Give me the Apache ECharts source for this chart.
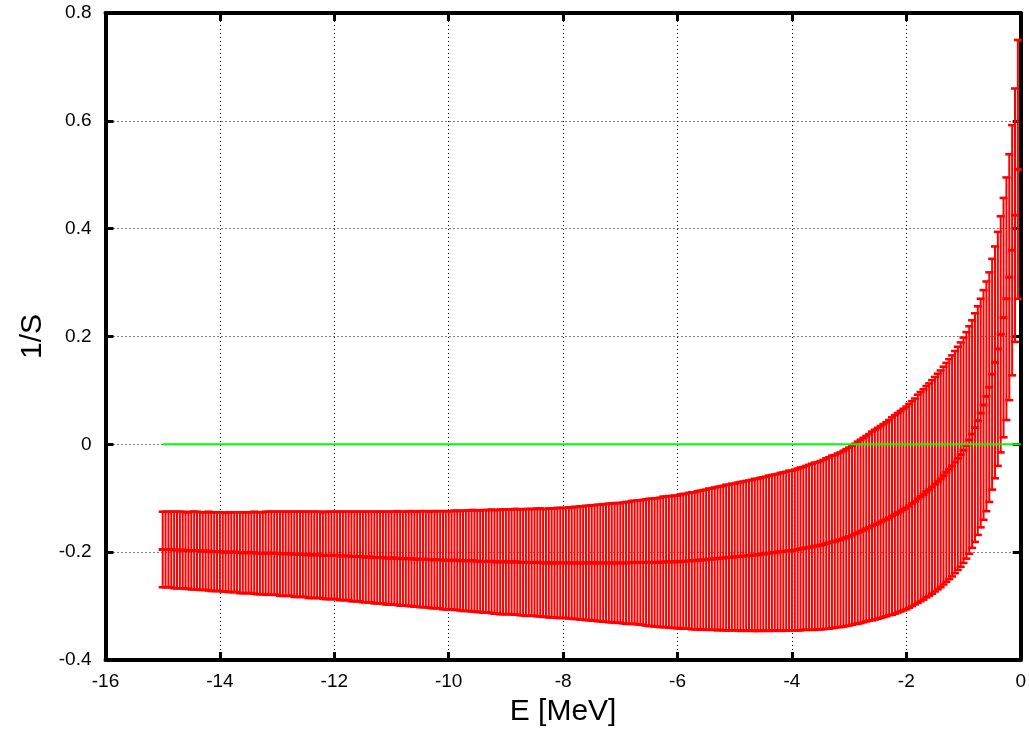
<!DOCTYPE html>
<html>
<head>
<meta charset="utf-8">
<script src="https://cdn.jsdelivr.net/npm/echarts@6/dist/echarts.min.js"></script>
<style>html,body{margin:0;padding:0;background:#fff}#c{width:1029px;height:732px}</style>
</head>
<body>
<div id="c"></div>
<script>
// Energy grid (MeV)
const E = [
-15.00,-14.95,-14.90,-14.85,-14.80,-14.75,-14.70,-14.65,-14.60,-14.55,-14.50,-14.45,-14.40,-14.35,-14.30,-14.25,-14.20,-14.15,-14.10,-14.05,
-14.00,-13.95,-13.90,-13.85,-13.80,-13.75,-13.70,-13.65,-13.60,-13.55,-13.50,-13.45,-13.40,-13.35,-13.30,-13.25,-13.20,-13.15,-13.10,-13.05,
-13.00,-12.95,-12.90,-12.85,-12.80,-12.75,-12.70,-12.65,-12.60,-12.55,-12.50,-12.45,-12.40,-12.35,-12.30,-12.25,-12.20,-12.15,-12.10,-12.05,
-12.00,-11.95,-11.90,-11.85,-11.80,-11.75,-11.70,-11.65,-11.60,-11.55,-11.50,-11.45,-11.40,-11.35,-11.30,-11.25,-11.20,-11.15,-11.10,-11.05,
-11.00,-10.95,-10.90,-10.85,-10.80,-10.75,-10.70,-10.65,-10.60,-10.55,-10.50,-10.45,-10.40,-10.35,-10.30,-10.25,-10.20,-10.15,-10.10,-10.05,
-10.00,-9.95,-9.90,-9.85,-9.80,-9.75,-9.70,-9.65,-9.60,-9.55,-9.50,-9.45,-9.40,-9.35,-9.30,-9.25,-9.20,-9.15,-9.10,-9.05,
-9.00,-8.95,-8.90,-8.85,-8.80,-8.75,-8.70,-8.65,-8.60,-8.55,-8.50,-8.45,-8.40,-8.35,-8.30,-8.25,-8.20,-8.15,-8.10,-8.05,
-8.00,-7.95,-7.90,-7.85,-7.80,-7.75,-7.70,-7.65,-7.60,-7.55,-7.50,-7.45,-7.40,-7.35,-7.30,-7.25,-7.20,-7.15,-7.10,-7.05,
-7.00,-6.95,-6.90,-6.85,-6.80,-6.75,-6.70,-6.65,-6.60,-6.55,-6.50,-6.45,-6.40,-6.35,-6.30,-6.25,-6.20,-6.15,-6.10,-6.05,
-6.00,-5.95,-5.90,-5.85,-5.80,-5.75,-5.70,-5.65,-5.60,-5.55,-5.50,-5.45,-5.40,-5.35,-5.30,-5.25,-5.20,-5.15,-5.10,-5.05,
-5.00,-4.95,-4.90,-4.85,-4.80,-4.75,-4.70,-4.65,-4.60,-4.55,-4.50,-4.45,-4.40,-4.35,-4.30,-4.25,-4.20,-4.15,-4.10,-4.05,
-4.00,-3.95,-3.90,-3.85,-3.80,-3.75,-3.70,-3.65,-3.60,-3.55,-3.50,-3.45,-3.40,-3.35,-3.30,-3.25,-3.20,-3.15,-3.10,-3.05,
-3.00,-2.95,-2.90,-2.85,-2.80,-2.75,-2.70,-2.65,-2.60,-2.55,-2.50,-2.45,-2.40,-2.35,-2.30,-2.25,-2.20,-2.15,-2.10,-2.05,
-2.00,-1.95,-1.90,-1.85,-1.80,-1.75,-1.70,-1.65,-1.60,-1.55,-1.50,-1.45,-1.40,-1.35,-1.30,-1.25,-1.20,-1.15,-1.10,-1.05,
-1.00,-0.95,-0.90,-0.85,-0.80,-0.75,-0.70,-0.65,-0.60,-0.55,-0.50,-0.45,-0.40,-0.35,-0.30,-0.25,-0.20,-0.15,-0.10,-0.05
];
// Central values of 1/S
const center = [
-0.195,-0.195,-0.195,-0.195,-0.196,-0.196,-0.196,-0.196,-0.197,-0.197,-0.197,-0.197,-0.197,-0.198,-0.198,-0.198,-0.198,-0.199,-0.199,-0.199,
-0.199,-0.200,-0.200,-0.200,-0.200,-0.200,-0.200,-0.201,-0.201,-0.201,-0.201,-0.201,-0.201,-0.202,-0.202,-0.202,-0.202,-0.202,-0.202,-0.202,
-0.202,-0.203,-0.203,-0.203,-0.203,-0.203,-0.204,-0.204,-0.204,-0.204,-0.204,-0.205,-0.205,-0.205,-0.205,-0.205,-0.206,-0.206,-0.206,-0.206,
-0.206,-0.206,-0.207,-0.207,-0.207,-0.207,-0.208,-0.208,-0.208,-0.208,-0.209,-0.209,-0.209,-0.209,-0.210,-0.210,-0.210,-0.210,-0.211,-0.211,
-0.211,-0.211,-0.211,-0.212,-0.212,-0.212,-0.212,-0.212,-0.213,-0.213,-0.213,-0.213,-0.213,-0.214,-0.214,-0.214,-0.214,-0.214,-0.215,-0.215,
-0.215,-0.215,-0.215,-0.215,-0.216,-0.216,-0.216,-0.216,-0.216,-0.216,-0.217,-0.217,-0.217,-0.217,-0.217,-0.217,-0.218,-0.218,-0.218,-0.218,
-0.218,-0.218,-0.218,-0.218,-0.218,-0.219,-0.219,-0.219,-0.219,-0.219,-0.219,-0.219,-0.219,-0.220,-0.220,-0.220,-0.220,-0.220,-0.220,-0.220,
-0.220,-0.220,-0.220,-0.220,-0.220,-0.220,-0.220,-0.220,-0.220,-0.220,-0.220,-0.220,-0.220,-0.220,-0.220,-0.220,-0.220,-0.220,-0.220,-0.220,
-0.220,-0.220,-0.220,-0.220,-0.219,-0.219,-0.219,-0.219,-0.219,-0.219,-0.219,-0.219,-0.219,-0.219,-0.219,-0.218,-0.218,-0.218,-0.218,-0.218,
-0.218,-0.217,-0.217,-0.217,-0.216,-0.216,-0.216,-0.215,-0.215,-0.214,-0.214,-0.213,-0.213,-0.212,-0.212,-0.211,-0.211,-0.210,-0.210,-0.209,
-0.209,-0.208,-0.208,-0.207,-0.207,-0.206,-0.206,-0.205,-0.205,-0.204,-0.203,-0.203,-0.202,-0.201,-0.201,-0.200,-0.199,-0.199,-0.198,-0.197,
-0.197,-0.196,-0.195,-0.194,-0.193,-0.192,-0.191,-0.190,-0.189,-0.188,-0.187,-0.186,-0.184,-0.183,-0.181,-0.180,-0.178,-0.177,-0.175,-0.173,
-0.171,-0.1685,-0.166,-0.164,-0.1615,-0.159,-0.1565,-0.154,-0.1515,-0.149,-0.1465,-0.144,-0.1415,-0.139,-0.136,-0.133,-0.130,-0.127,-0.124,-0.121,
-0.118,-0.114,-0.110,-0.106,-0.101,-0.097,-0.093,-0.088,-0.084,-0.079,-0.074,-0.069,-0.064,-0.058,-0.052,-0.046,-0.040,-0.033,-0.026,-0.019,
-0.011,-0.002,0.008,0.019,0.031,0.044,0.058,0.073,0.089,0.106,0.130,0.152,0.177,0.204,0.235,0.270,0.310,0.360,0.425,0.510
];
// Symmetric error half-widths
const err = [
0.070,0.070,0.070,0.070,0.071,0.071,0.071,0.071,0.071,0.071,0.072,0.072,0.072,0.072,0.072,0.072,0.073,0.073,0.073,0.073,
0.073,0.073,0.073,0.074,0.074,0.074,0.074,0.075,0.075,0.075,0.075,0.075,0.076,0.076,0.076,0.076,0.077,0.077,0.077,0.077,
0.077,0.078,0.078,0.078,0.078,0.078,0.079,0.079,0.079,0.079,0.079,0.080,0.080,0.080,0.080,0.080,0.080,0.081,0.081,0.081,
0.081,0.081,0.082,0.082,0.082,0.082,0.083,0.083,0.083,0.083,0.084,0.084,0.084,0.084,0.085,0.085,0.085,0.085,0.086,0.086,
0.086,0.086,0.087,0.087,0.087,0.087,0.088,0.088,0.088,0.088,0.089,0.089,0.089,0.089,0.090,0.090,0.090,0.090,0.091,0.091,
0.091,0.091,0.092,0.092,0.092,0.093,0.093,0.093,0.094,0.094,0.094,0.094,0.095,0.095,0.095,0.096,0.096,0.096,0.097,0.097,
0.097,0.097,0.097,0.098,0.098,0.098,0.098,0.099,0.099,0.099,0.099,0.100,0.100,0.100,0.100,0.101,0.101,0.101,0.102,0.102,
0.102,0.102,0.103,0.103,0.104,0.104,0.105,0.105,0.106,0.106,0.107,0.107,0.108,0.108,0.109,0.109,0.110,0.110,0.111,0.111,
0.111,0.112,0.113,0.113,0.114,0.114,0.115,0.115,0.116,0.117,0.118,0.118,0.119,0.119,0.120,0.121,0.121,0.122,0.122,0.123,
0.123,0.124,0.125,0.125,0.126,0.127,0.127,0.128,0.129,0.129,0.130,0.131,0.131,0.132,0.133,0.133,0.134,0.135,0.135,0.136,
0.136,0.137,0.138,0.138,0.139,0.139,0.140,0.141,0.141,0.142,0.142,0.143,0.144,0.144,0.145,0.145,0.146,0.147,0.147,0.148,
0.148,0.149,0.150,0.151,0.151,0.152,0.153,0.154,0.155,0.155,0.156,0.157,0.158,0.159,0.160,0.160,0.161,0.162,0.163,0.164,
0.165,0.166,0.167,0.169,0.170,0.171,0.172,0.173,0.175,0.176,0.177,0.178,0.179,0.180,0.181,0.183,0.184,0.185,0.186,0.187,
0.188,0.189,0.190,0.191,0.193,0.194,0.195,0.196,0.197,0.198,0.199,0.200,0.201,0.202,0.203,0.204,0.205,0.206,0.207,0.208,
0.209,0.210,0.211,0.211,0.212,0.212,0.212,0.213,0.213,0.213,0.214,0.215,0.217,0.219,0.222,0.225,0.228,0.232,0.235,0.240
];
// Reference line 1/S = 0
const zeroLineE = [-15, 0];
const zeroLineV = [0, 0];

const FONT = 'Liberation Sans, Arial, Helvetica, sans-serif';
const chart = echarts.init(document.getElementById('c'), null, {renderer: 'canvas'});
const errData = E.map((e, i) => [e, center[i], err[i]]);
const zeroData = zeroLineE.map((e, i) => [e, zeroLineV[i]]);

const frameLine = {show: true, onZero: false, lineStyle: {color: '#000', width: 4}};
const frameTick = {show: true, inside: true, length: 8, lineStyle: {color: '#000', width: 3}};
const gridLine = {show: true, lineStyle: {color: '#000', width: 1, type: [1, 3]}};
const tickLabel = {color: '#000', fontSize: 19, fontFamily: FONT};

chart.setOption({
  animation: false,
  backgroundColor: '#fff',
  grid: {left: 105.5, right: 5.5, top: 13, bottom: 69.7, containLabel: false},
  xAxis: [
    {type: 'value', min: -16, max: 0, interval: 2, position: 'bottom',
     axisLine: frameLine, axisTick: frameTick,
     axisLabel: Object.assign({margin: 12}, tickLabel),
     splitLine: gridLine,
     name: 'E [MeV]', nameLocation: 'middle', nameGap: 37,
     nameTextStyle: {color: '#000', fontSize: 30, fontFamily: FONT}},
    {type: 'value', min: -16, max: 0, interval: 2, position: 'top',
     axisLine: frameLine, axisTick: frameTick, axisLabel: {show: false}, splitLine: {show: false}}
  ],
  yAxis: [
    {type: 'value', min: -0.4, max: 0.8, interval: 0.2, position: 'left',
     axisLine: frameLine, axisTick: frameTick,
     axisLabel: Object.assign({margin: 14}, tickLabel),
     splitLine: gridLine,
     name: '1/S', nameLocation: 'middle', nameGap: 55, nameRotate: 90,
     nameTextStyle: {color: '#000', fontSize: 30, fontFamily: FONT}},
    {type: 'value', min: -0.4, max: 0.8, interval: 0.2, position: 'right',
     axisLine: frameLine, axisTick: frameTick, axisLabel: {show: false}, splitLine: {show: false}}
  ],
  series: [
    {
      type: 'custom',
      xAxisIndex: 0, yAxisIndex: 0,
      data: errData,
      encode: {x: 0, y: 1},
      z: 2,
      renderItem: function (params, api) {
        const x = api.value(0), c = api.value(1), d = api.value(2);
        const top = api.coord([x, c + d]);
        const bot = api.coord([x, c - d]);
        const mid = api.coord([x, c]);
        const hw = 4;
        const capStyle = {stroke: '#ff0000', lineWidth: 2.6};
        return {
          type: 'group',
          children: [
            {type: 'line', shape: {x1: top[0], y1: top[1], x2: bot[0], y2: bot[1]}, style: {stroke: '#ff0000', lineWidth: 2}},
            {type: 'line', shape: {x1: top[0] - hw, y1: top[1], x2: top[0] + hw, y2: top[1]}, style: capStyle},
            {type: 'line', shape: {x1: bot[0] - hw, y1: bot[1], x2: bot[0] + hw, y2: bot[1]}, style: capStyle},
            {type: 'line', shape: {x1: mid[0] - hw, y1: mid[1], x2: mid[0] + hw, y2: mid[1]}, style: {stroke: '#ff0000', lineWidth: 3}}
          ]
        };
      }
    },
    {
      type: 'line',
      xAxisIndex: 0, yAxisIndex: 0,
      data: zeroData,
      symbol: 'none',
      z: 3,
      lineStyle: {color: '#00ff00', width: 2}
    }
  ]
});
</script>
</body>
</html>
